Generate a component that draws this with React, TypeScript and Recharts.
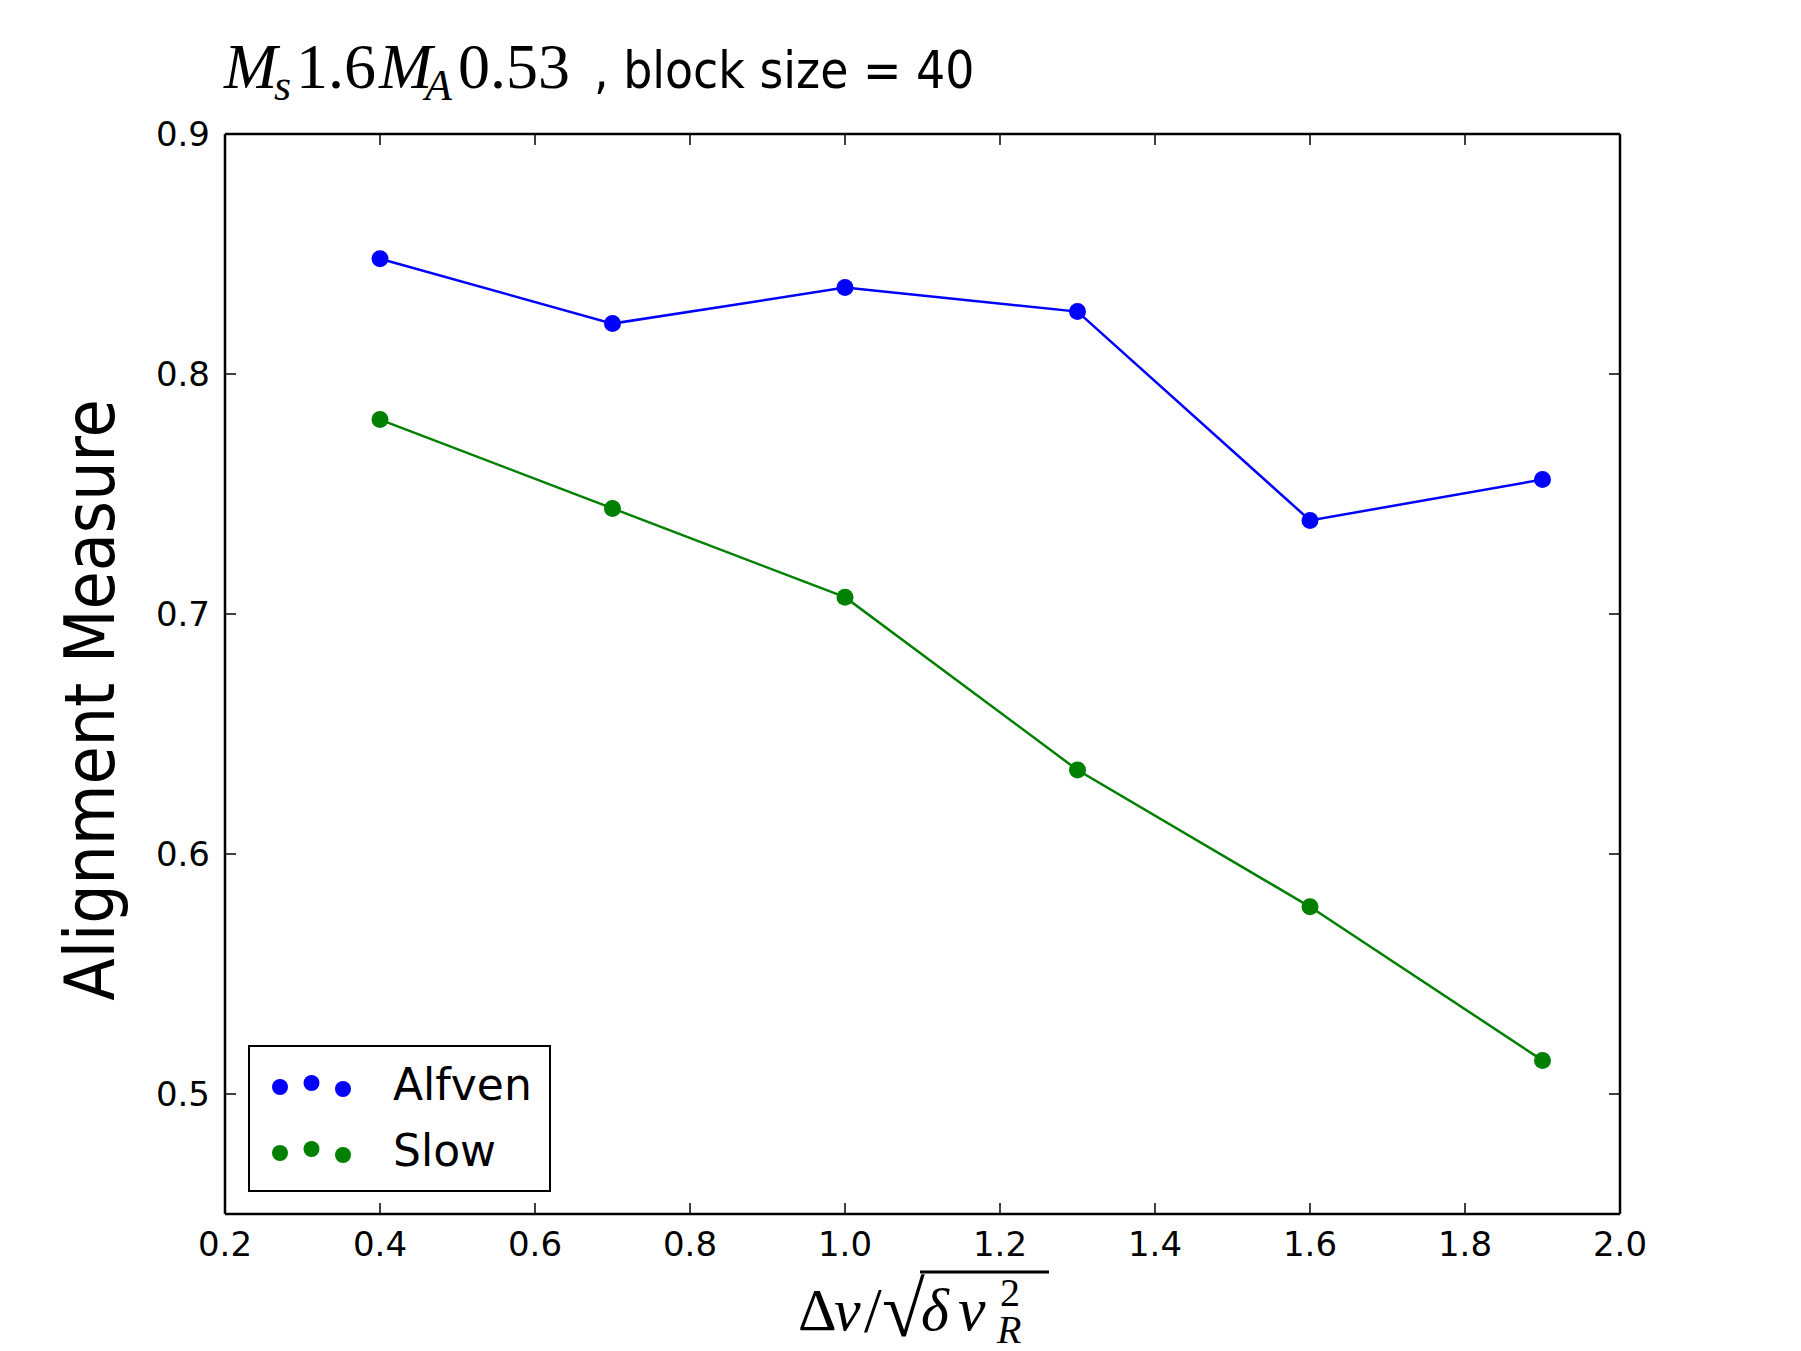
import { LineChart, Line, XAxis, YAxis, Legend } from 'recharts';

// values
const speedRatio = [0.4, 0.7, 1.0, 1.3, 1.6, 1.9];
const alfvenValues = [0.848, 0.821, 0.836, 0.826, 0.739, 0.756];
const slowValues = [0.781, 0.744, 0.707, 0.635, 0.578, 0.514];
const xTicks = [0.2, 0.4, 0.6, 0.8, 1.0, 1.2, 1.4, 1.6, 1.8, 2.0];
const yTicks = [0.5, 0.6, 0.7, 0.8, 0.9];

const data = speedRatio.map((x, i) => ({ x, alfven: alfvenValues[i], slow: slowValues[i] }));

const TICK_FONT = 'DejaVu Sans, sans-serif';
const SERIF = 'Liberation Serif, DejaVu Serif, serif';
const NARROW = 'Liberation Sans Narrow, DejaVu Sans, sans-serif';
const TICK_LEN = 11;

function BottomTick({ x, y, payload }: any) {
  return (
    <g>
      <line x1={x} y1={y} x2={x} y2={y - TICK_LEN} stroke="#000" strokeWidth={1.5} />
      <text x={x} y={y + 42} textAnchor="middle" fontSize={34} fontFamily={TICK_FONT} fill="#000">
        {Number(payload.value).toFixed(1)}
      </text>
    </g>
  );
}

function TopTick({ x, y }: any) {
  return <line x1={x} y1={y} x2={x} y2={y + TICK_LEN} stroke="#000" strokeWidth={1.5} />;
}

function LeftTick({ x, y, payload }: any) {
  return (
    <g>
      <line x1={x} y1={y} x2={x + TICK_LEN} y2={y} stroke="#000" strokeWidth={1.5} />
      <text x={x - 15} y={y + 12} textAnchor="end" fontSize={34} fontFamily={TICK_FONT} fill="#000">
        {Number(payload.value).toFixed(1)}
      </text>
    </g>
  );
}

function RightTick({ x, y }: any) {
  return <line x1={x} y1={y} x2={x - TICK_LEN} y2={y} stroke="#000" strokeWidth={1.5} />;
}

// matplotlib-style legend: three scatter points per entry
const dotOffsets = [4, 0, 6];

function LegendBox({ payload }: any) {
  return (
    <div
      style={{
        width: 303,
        height: 147,
        boxSizing: 'border-box',
        border: '2.5px solid #000',
        background: '#fff',
        position: 'relative',
      }}
    >
      {(payload || []).map((entry: any, i: number) => (
        <div key={entry.value} style={{ position: 'absolute', left: 0, top: 16 + i * 66, height: 44, width: 300 }}>
          <svg width={110} height={44} style={{ position: 'absolute', left: 0, top: 0 }}>
            {dotOffsets.map((dy, j) => (
              <circle key={j} cx={30 + j * 31.5} cy={20 + dy} r={8} fill={entry.color} />
            ))}
          </svg>
          <span
            style={{
              position: 'absolute',
              left: 143,
              top: -4,
              fontFamily: TICK_FONT,
              fontSize: 44,
              lineHeight: '52px',
              color: '#000',
            }}
          >
            {entry.value}
          </span>
        </div>
      ))}
    </div>
  );
}

const frame = { stroke: '#000', strokeWidth: 2.5 };

export default function App() {
  return (
    <div style={{ position: 'absolute', left: 0, top: 0, width: 1801, height: 1351, background: '#fff' }}>
      <LineChart width={1801} height={1351} data={data} margin={{ top: 133, right: 180, bottom: 136, left: 224 }}>
        <XAxis
          dataKey="x"
          type="number"
          domain={[0.2, 2.0]}
          ticks={xTicks}
          interval={0}
          height={1}
          tickSize={0}
          tickMargin={0}
          tickLine={false}
          tick={<BottomTick />}
          axisLine={frame}
          allowDataOverflow
        />
        <XAxis
          xAxisId="top"
          dataKey="x"
          orientation="top"
          type="number"
          domain={[0.2, 2.0]}
          ticks={xTicks}
          interval={0}
          height={1}
          tickSize={0}
          tickMargin={0}
          tickLine={false}
          tick={<TopTick />}
          axisLine={frame}
          allowDataOverflow
        />
        <YAxis
          type="number"
          domain={[0.45, 0.9]}
          ticks={yTicks}
          interval={0}
          width={1}
          tickSize={0}
          tickMargin={0}
          tickLine={false}
          tick={<LeftTick />}
          axisLine={frame}
          allowDataOverflow
        />
        <YAxis
          yAxisId="right"
          orientation="right"
          type="number"
          domain={[0.45, 0.9]}
          ticks={yTicks}
          interval={0}
          width={1}
          tickSize={0}
          tickMargin={0}
          tickLine={false}
          tick={<RightTick />}
          axisLine={frame}
          allowDataOverflow
        />
        <Legend
          layout="horizontal"
          verticalAlign="middle"
          align="center"
          content={<LegendBox />}
          wrapperStyle={{ position: 'absolute', left: 248, top: 1045, bottom: 'auto', right: 'auto', width: 303, height: 147 }}
        />
        <Line
          name="Alfven"
          dataKey="alfven"
          stroke="#0000ff"
          strokeWidth={2.5}
          dot={{ r: 8.5, fill: '#0000ff', stroke: '#0000ff', strokeWidth: 0 }}
          activeDot={false}
          isAnimationActive={false}
        />
        <Line
          name="Slow"
          dataKey="slow"
          stroke="#008000"
          strokeWidth={2.5}
          dot={{ r: 8.5, fill: '#008000', stroke: '#008000', strokeWidth: 0 }}
          activeDot={false}
          isAnimationActive={false}
        />
      </LineChart>

      <svg width={1801} height={1351} style={{ position: 'absolute', left: 0, top: 0, pointerEvents: 'none' }}>
        {/* title */}
        <text y={88} fontSize={64} fill="#000">
          <tspan x={224} fontFamily={SERIF} fontStyle="italic">M</tspan>
          <tspan x={274} dy={12} fontFamily={SERIF} fontStyle="italic" fontSize={44}>s</tspan>
          <tspan x={296} dy={-12} fontFamily={SERIF}>1.6</tspan>
          <tspan x={379} fontFamily={SERIF} fontStyle="italic">M</tspan>
          <tspan x={425} dy={12} fontFamily={SERIF} fontStyle="italic" fontSize={44}>A</tspan>
          <tspan x={458} dy={-12} fontFamily={SERIF}>0.53</tspan>
          <tspan x={594} fontFamily={NARROW} fontSize={51} style={{ fontStretch: 'condensed' }}>
            , block size = 40
          </tspan>
        </text>

        {/* y axis label */}
        <text
          x={114}
          y={700}
          transform="rotate(-90, 114, 700)"
          textAnchor="middle"
          fontFamily={NARROW}
          fontSize={69}
          fill="#000"
          style={{ fontStretch: 'condensed' }}
        >
          Alignment Measure
        </text>

        {/* x axis label */}
        <g fontFamily={SERIF} fill="#000">
          <text x={798} y={1330} fontSize={60}>Δ</text>
          <text x={834} y={1330} fontSize={60} fontStyle="italic">v</text>
          <text x={864} y={1332} fontSize={64}>/</text>
          <text x={882} y={1336} fontSize={78}>√</text>
          <line x1={920} y1={1272} x2={1049} y2={1272} stroke="#000" strokeWidth={3} />
          <text x={921} y={1330} fontSize={60} fontStyle="italic">δ</text>
          <text x={958} y={1330} fontSize={62} fontStyle="italic">v</text>
          <text x={1000} y={1306} fontSize={40}>2</text>
          <text x={997} y={1343} fontSize={40} fontStyle="italic">R</text>
        </g>
      </svg>
    </div>
  );
}
